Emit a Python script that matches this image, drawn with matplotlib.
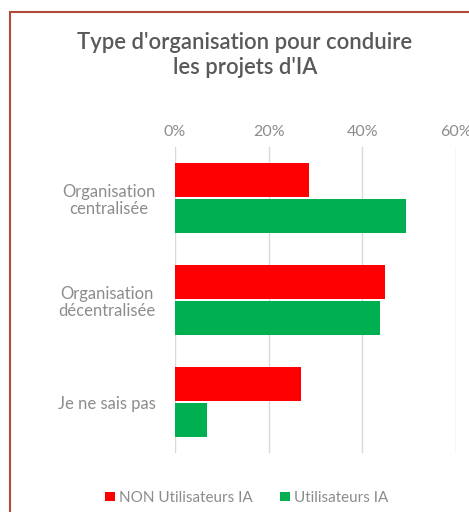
import numpy as np
import matplotlib.pyplot as plt
from matplotlib.patches import Rectangle

# Données
categories = ["Organisation\ncentralisée", "Organisation\ndécentralisée", "Je ne sais pas"]
non_utilisateurs = [28.6, 44.8, 26.8]
utilisateurs = [49.3, 43.8, 6.8]
series_labels = ["NON Utilisateurs IA", "Utilisateurs IA"]
ticks = [0, 20, 40, 60]
tick_labels = ["0%", "20%", "40%", "60%"]

rouge = "#FF0000"
vert = "#00B050"
gris_texte = "#8C8C8C"

plt.rcParams['font.family'] = ['Lato', 'DejaVu Sans']

fig = plt.figure(figsize=(4.69, 5.12), dpi=100)
ax = fig.add_axes([175 / 469, 1 - 453 / 512, 281 / 469, 306 / 512])

y = np.arange(len(categories))
h = 0.33
ax.barh(y - 0.177, non_utilisateurs, height=h, color=rouge, label=series_labels[0])
ax.barh(y + 0.177, utilisateurs, height=h, color=vert, label=series_labels[1])

ax.set_xlim(0, 60)
ax.set_ylim(2.5, -0.5)
ax.set_xticks(ticks)
ax.set_xticklabels(tick_labels, color=gris_texte, fontsize=11.5)
ax.xaxis.tick_top()
ax.set_yticks(y)
ax.set_yticklabels(categories, color=gris_texte, fontsize=12,
                   multialignment='center', linespacing=1.1)
ax.tick_params(axis='y', length=0, pad=14)
ax.tick_params(axis='x', length=0, pad=6)
ax.grid(axis='x', color='#D9D9D9', linewidth=1)
ax.set_axisbelow(True)
for s in ax.spines.values():
    s.set_visible(False)

fig.text(245 / 469, 1 - 55 / 512, "Type d'organisation pour conduire\nles projets d'IA",
         ha='center', va='center', fontsize=15.8, color='#595959', fontweight='semibold',
         linespacing=1.2)

fig.legend(loc='center', bbox_to_anchor=(247 / 469, 1 - 498 / 512), ncol=2, frameon=False,
           handlelength=0.6, handleheight=0.6, handletextpad=0.3, columnspacing=1.8,
           prop={'size': 11}, labelcolor=gris_texte)

# cadre
fig.patches.append(Rectangle((10 / 469, -0.1), 1.2, 1 - 12 / 512 + 0.1,
                             transform=fig.transFigure, fill=False,
                             edgecolor='#B04A3A', linewidth=1.5))

fig.savefig("out.png", dpi=100)
